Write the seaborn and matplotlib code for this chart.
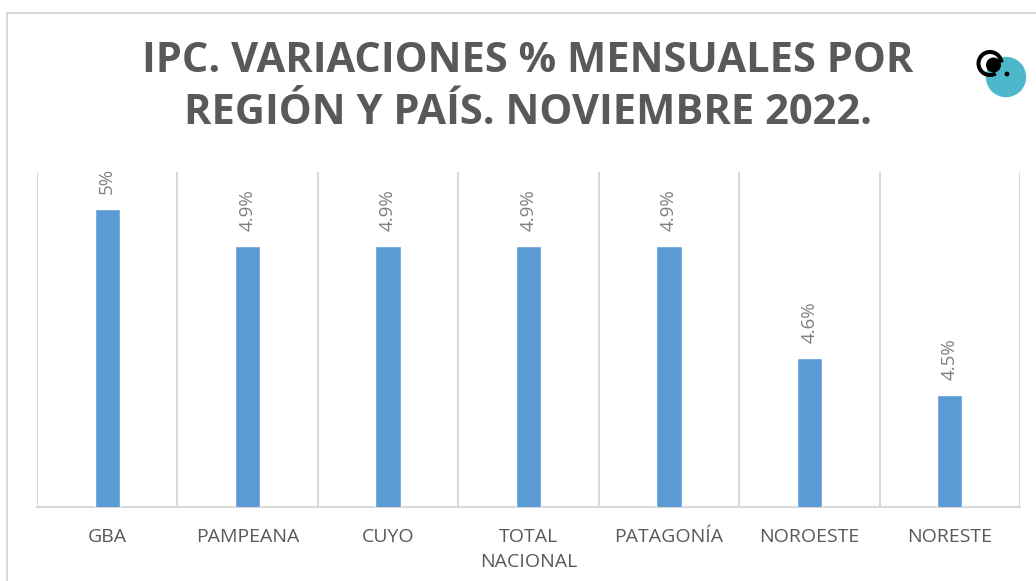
import matplotlib
matplotlib.use("Agg")
import matplotlib.pyplot as plt
import seaborn as sns
import pandas as pd
from matplotlib.patches import Rectangle, Circle, Arc

categories = ["GBA", "PAMPEANA", "CUYO", "TOTAL\nNACIONAL", "PATAGONÍA", "NOROESTE", "NORESTE"]
values = [5.0, 4.9, 4.9, 4.9, 4.9, 4.6, 4.5]
value_labels = ["5%", "4.9%", "4.9%", "4.9%", "4.9%", "4.6%", "4.5%"]
title_lines = ["IPC. VARIACIONES % MENSUALES POR", "REGIÓN Y PAÍS. NOVIEMBRE 2022."]

sns.set_theme(style="white")
plt.rcParams['font.family'] = ['Open Sans', 'DejaVu Sans']

W, H = 1036, 581
fig = plt.figure(figsize=(W / 100, H / 100), dpi=100)
ax = fig.add_axes([37 / W, 1 - 507 / H, (1020 - 37) / W, (507 - 172) / H])

df = pd.DataFrame({"region": categories, "valor": values})
sns.barplot(data=df, x="region", y="valor", color="#5B9BD5", width=0.18,
            saturation=1, ax=ax, zorder=3)

ax.set_ylim(4.2, 5.1)
ax.set_xlim(-0.5, len(categories) - 0.5)
ax.set_yticks([])
ax.set_xlabel("")
ax.set_ylabel("")
ax.set_xticks([i - 0.5 for i in range(len(categories) + 1)], minor=True)
ax.grid(which="minor", axis="x", color="#d9d9d9", linewidth=1.5)
ax.tick_params(axis="x", which="both", length=0)
ax.tick_params(axis="x", which="major", pad=15, labelsize=14, labelcolor="#595959")
for lbl in ax.get_xticklabels():
    lbl.set_linespacing(1.5)
for s in ["top", "right", "left"]:
    ax.spines[s].set_visible(False)
ax.spines["bottom"].set_color("#d9d9d9")
ax.spines["bottom"].set_linewidth(1.5)

for i, (v, t) in enumerate(zip(values, value_labels)):
    ax.annotate(t, xy=(i, v), xytext=(0, 11), textcoords="offset points",
                rotation=90, ha="center", va="bottom", fontsize=13.5,
                color="#7f7f7f")

fig.text(528 / W, 1 - 62 / H, title_lines[0], ha="center", va="center",
         fontsize=30, fontweight="bold", color="#595959")
fig.text(528 / W, 1 - 114 / H, title_lines[1], ha="center", va="center",
         fontsize=30, fontweight="bold", color="#595959")

# frame
fig.patches.append(Rectangle((7 / W, -0.1), 1.2, 1 - 13 / H + 0.1,
                             transform=fig.transFigure, fill=False,
                             edgecolor="#d9d9d9", linewidth=1.5))

# logo (pixel coordinates, y measured from the bottom)
logo_ax = fig.add_axes([0, 0, 1, 1], facecolor="none")
logo_ax.set_xlim(0, W)
logo_ax.set_ylim(0, H)
logo_ax.axis("off")
logo_ax.add_patch(Circle((1006, H - 77), 19.5, color="#4DB8CC", zorder=1))
logo_ax.add_patch(Arc((990, H - 63.5), 23, 23, theta1=5, theta2=300, color="black",
                      linewidth=2.9, zorder=2))
logo_ax.add_patch(Circle((993.5, H - 65), 6.8, color="black", zorder=2))
logo_ax.add_patch(Circle((1007, H - 74), 1.7, color="black", zorder=2))

fig.savefig("out.png", dpi=100)
